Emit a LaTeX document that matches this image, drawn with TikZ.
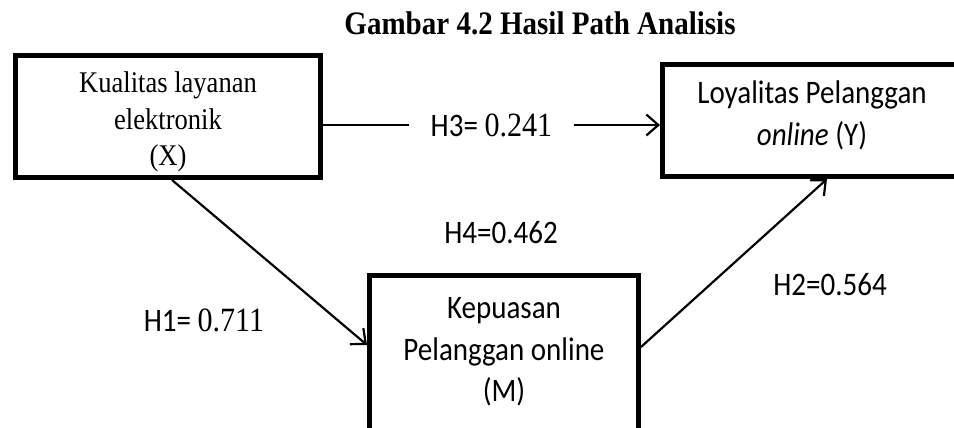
\documentclass[tikz,border=0pt]{standalone}
\usepackage{fontspec}
\setmainfont{Liberation Serif}[FakeStretch=0.885]
\newfontfamily\calibri{Carlito}[FakeStretch=0.885]
\usetikzlibrary{arrows.meta}

\begin{document}
\begin{tikzpicture}[x=1pt, y=-1pt,
    varbox/.style={draw, line width=5pt, inner sep=0pt},
    vartext/.style={align=center, inner sep=0pt},
    link/.style={-{Straight Barb[length=12pt, width=21pt]}, line width=2.2pt},
    coef/.style={inner sep=0pt, font=\calibri\fontsize{32.8}{36}\selectfont}] %Hasil path analisis
    \clip (0,0) rectangle (954,428);
    \fill[white] (0,0) rectangle (954,428);

    \node[font=\bfseries\fontsize{32.8}{36}\selectfont] (title) at (540,23.5) {Gambar 4.2 Hasil Path Analisis};

    % kotak variabel
    \node[varbox, minimum width=305pt, minimum height=122pt] (X) at (168,116.5) {};
    \node[varbox, minimum width=299pt, minimum height=112pt] (Y) at (812,120.5) {};
    \node[varbox, minimum width=269pt, minimum height=161pt] (M) at (504,356) {};

    \node[vartext, font=\fontsize{30}{36.5}\selectfont] (Xtxt) at (168,122) {Kualitas layanan\\elektronik\\(X)};
    \node[vartext, font=\calibri\fontsize{32.8}{42}\selectfont] (Ytxt) at (812,115) {Loyalitas Pelanggan\\\textit{online} (Y)};
    \node[vartext, font=\calibri\fontsize{32.8}{41.5}\selectfont] (Mtxt) at (504,352) {Kepuasan\\Pelanggan online\\(M)};

    % jalur
    \coordinate (h3) at ([yshift=-8.5pt]X.east);
    \draw[link] (h3) -- (h3 -| Y.west) node[midway, fill=white, inner xsep=22pt, inner ysep=2pt, font=\calibri\fontsize{32.8}{36}\selectfont] (h3lbl) {H3= {\rmfamily\fontsize{34}{36}\selectfont 0.241}};
    \draw[link] ([xshift=4pt]X.south) -- ([yshift=11pt]M.west);
    \draw[link] ([yshift=9pt]M.east) -- ([xshift=15pt]Y.south);

    \node[coef] (h1) at (204,320) {H1= {\rmfamily\fontsize{34}{36}\selectfont 0.711}};
    \node[coef] (h2) at (830,285) {H2=0.564};
    \node[coef] (h4) at (501,233) {H4=0.462};
\end{tikzpicture}
\end{document}
